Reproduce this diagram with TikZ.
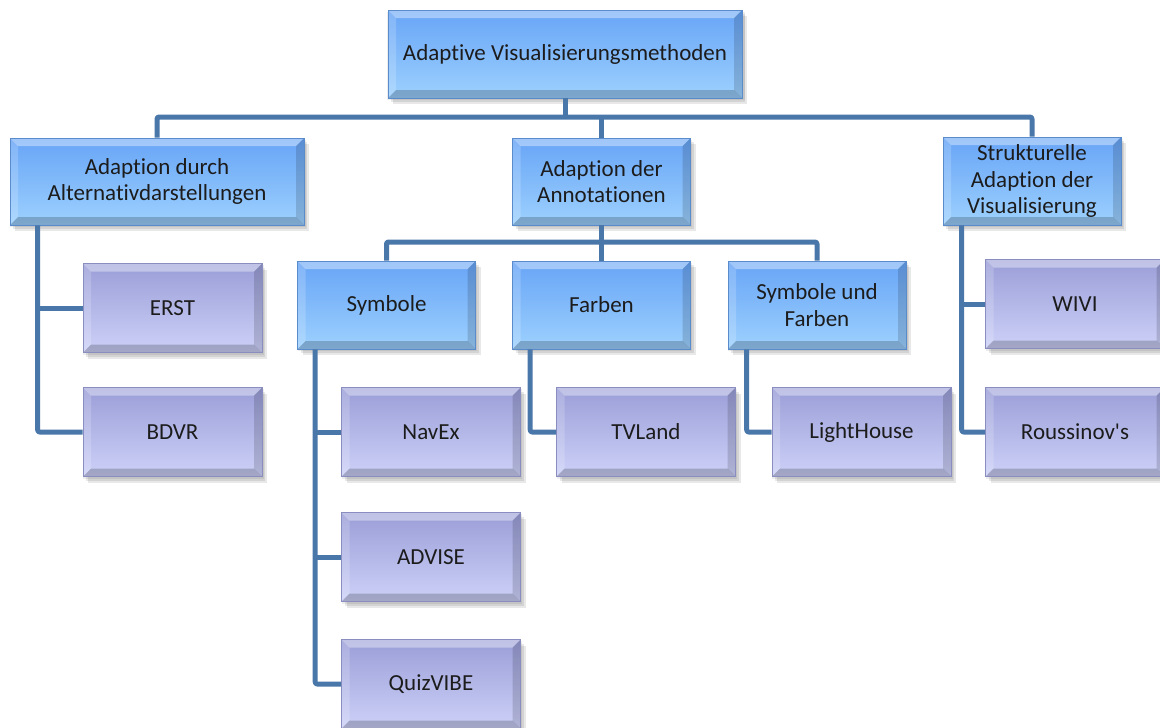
\documentclass[tikz,border=0pt]{standalone}
\usepackage{fontspec}
\setmainfont{Carlito}[Ligatures={NoCommon}]
\usetikzlibrary{shadows}

\definecolor{blueTop}{HTML}{67A4F6}
\definecolor{blueBot}{HTML}{9DD1FE}
\definecolor{blueEdge}{HTML}{5A8CCB}
\definecolor{lilaTop}{HTML}{9A9ED7}
\definecolor{lilaBot}{HTML}{CDD1F8}
\definecolor{lilaEdge}{HTML}{8A8DBF}
\definecolor{conn}{HTML}{4A77AA}
\definecolor{txt}{HTML}{1C1C1C}

\tikzset{
  softshadow/.style={
    general shadow={fill=black, opacity=0.07, shadow xshift=1pt, shadow yshift=-2pt, shadow scale=1.01},
    general shadow={fill=black, opacity=0.09, shadow xshift=3pt, shadow yshift=-4pt},
    general shadow={fill=black, opacity=0.09, shadow xshift=5pt, shadow yshift=-6pt}},
  bevelled/.style={path picture={
    \fill[white, opacity=0.38]
      (path picture bounding box.north west) -- (path picture bounding box.north east)
      -- ([xshift=-8pt,yshift=-8pt]path picture bounding box.north east)
      -- ([xshift=8pt,yshift=-8pt]path picture bounding box.north west) -- cycle;
    \fill[white, opacity=0.18]
      (path picture bounding box.north west) -- ([xshift=8pt,yshift=-8pt]path picture bounding box.north west)
      -- ([xshift=8pt,yshift=8pt]path picture bounding box.south west)
      -- (path picture bounding box.south west) -- cycle;
    \fill[black, opacity=0.14]
      (path picture bounding box.north east) -- (path picture bounding box.south east)
      -- ([xshift=-8pt,yshift=8pt]path picture bounding box.south east)
      -- ([xshift=-8pt,yshift=-8pt]path picture bounding box.north east) -- cycle;
    \fill[black, opacity=0.20]
      (path picture bounding box.south west) -- (path picture bounding box.south east)
      -- ([xshift=-8pt,yshift=8pt]path picture bounding box.south east)
      -- ([xshift=8pt,yshift=8pt]path picture bounding box.south west) -- cycle;
  }},
  boxcore/.style={rectangle, line width=0.6pt, align=center, inner sep=2pt,
    text=txt, font=\fontsize{23}{26.5}\selectfont, softshadow, bevelled},
  bluebox/.style={boxcore, draw=blueEdge, top color=blueTop, bottom color=blueBot,
    minimum width=178pt, minimum height=88pt},
  lilabox/.style={boxcore, draw=lilaEdge, top color=lilaTop, bottom color=lilaBot,
    minimum width=179pt, minimum height=89pt},
  link/.style={draw=conn, line width=5pt, line join=round, rounded corners=2pt},
}

\begin{document}
\begin{tikzpicture}[x=1pt, y=-1pt]
  \useasboundingbox (0,0) rectangle (1160,728);
  \clip (0,0) rectangle (1160,728);
  \fill[white] (0,0) rectangle (1160,728);

  % root
  \node[bluebox, minimum width=354pt] (root) at (565,54) {Adaptive Visualisierungsmethoden};

  % first level
  \node[bluebox, minimum width=294pt, minimum height=87pt] (alt) at (157,181.5)
    {Adaption durch\\Alternativdarstellungen};
  \node[bluebox, minimum height=87pt] (anno) at (601.5,181.5) {Adaption der\\Annotationen};
  \node[bluebox] (struk) at (1032,181) {Strukturelle\\Adaption der\\Visualisierung};

  % annotation kinds
  \node[bluebox] (sym) at (386.5,305) {Symbole};
  \node[bluebox] (farb) at (601.5,305) {Farben};
  \node[bluebox] (symf) at (817,305) {Symbole und\\Farben};

  % leaves
  \node[lilabox] (erst) at (172.5,308) {ERST};
  \node[lilabox] (bdvr) at (172.5,432) {BDVR};
  \node[lilabox] (navex) at (431,432) {NavEx};
  \node[lilabox] (advise) at (431,557) {ADVISE};
  \node[lilabox] (quiz) at (431,684) {QuizVIBE};
  \node[lilabox] (tvl) at (646,432) {TVLand};
  \node[lilabox] (lh) at (861.5,432) {LightHouse};
  \node[lilabox] (wivi) at (1075,304) {WIVI};
  \node[lilabox] (rous) at (1075,432) {Roussinov\textquotesingle s};

  % root bus
  \coordinate (bus) at (565,117);
  \draw[link] (root.south) -- (bus);
  \draw[link] (alt.north) |- (bus -| struk.north) -- (struk.north);
  \draw[link] (bus -| anno.north) -- (anno.north);

  % annotation bus
  \coordinate (bus2) at (601.5,242);
  \draw[link] (anno.south) -- (farb.north);
  \draw[link] (sym.north) |- (bus2 -| symf.north) -- (symf.north);

  % stems to the leaves
  \coordinate (stA) at ([xshift=28pt]alt.south west);
  \draw[link] (stA) |- (bdvr.west);
  \draw[link] (erst.west) -- (erst.west -| stA);

  \coordinate (stS) at ([xshift=18pt]sym.south west);
  \draw[link] (stS) |- (quiz.west);
  \draw[link] (navex.west) -- (navex.west -| stS);
  \draw[link] (advise.west) -- (advise.west -| stS);

  \coordinate (stF) at ([xshift=18pt]farb.south west);
  \draw[link] (stF) |- (tvl.west);

  \coordinate (stSF) at ([xshift=19pt]symf.south west);
  \draw[link] (stSF) |- (lh.west);

  \coordinate (stR) at ([xshift=19pt]struk.south west);
  \draw[link] (stR) |- (rous.west);
  \draw[link] (wivi.west) -- (wivi.west -| stR);
\end{tikzpicture}
\end{document}
